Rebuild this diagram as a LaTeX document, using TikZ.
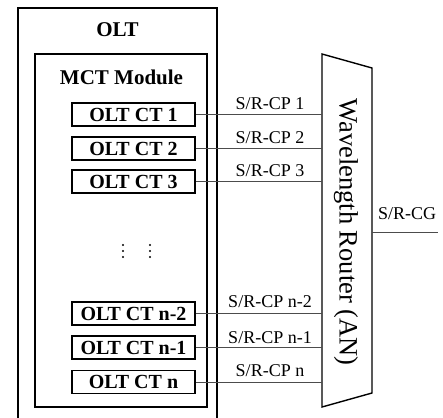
\documentclass[tikz,border=0pt]{standalone}
\usepackage{fontspec}
\setmainfont{Liberation Serif}
\usepackage{tikz}
\usetikzlibrary{calc}

\begin{document}
\begin{tikzpicture}[x=1pt,y=-1pt,
ctbox/.style={draw,line width=1.4pt,minimum width=123pt,minimum height=23pt,inner sep=0pt,font=\fontsize{20}{22}\selectfont\bfseries},
cplabel/.style={anchor=base,inner sep=0pt,font=\fontsize{18}{20}\selectfont},
link/.style={line width=1pt,black!70}]
\useasboundingbox (0,0) rectangle (443,417);
%\draw[red] (0,0) rectangle (443,417);

% OLT and MCT frames
\draw[line width=1.4pt] (18,430) -- (18,8) -- (217,8) -- (217,430);
\draw[line width=1.4pt] (35,54) rectangle (207,407);
\node (olt) [font=\fontsize{21}{23}\selectfont\bfseries] at (117.5,30) {OLT};
\node (mct) [font=\fontsize{21}{23}\selectfont\bfseries] at (121.5,77) {MCT Module};

% channel terminations
\node (ct1) [ctbox] at (133.5,114.5) {OLT CT 1};
\node (ct2) [ctbox] at (133.5,148.5) {OLT CT 2};
\node (ct3) [ctbox] at (133.5,181.5) {OLT CT 3};
\node (ctn2) [ctbox] at (133.5,313.5) {OLT CT n-2};
\node (ctn1) [ctbox] at (133.5,347.5) {OLT CT n-1};
\node (ctn) [ctbox] at (133.5,382) {OLT CT n};

\fill (123,245) circle (1.1) (123,251) circle (1.1) (123,257) circle (1.1);
\fill (150,245) circle (1.1) (150,251) circle (1.1) (150,257) circle (1.1);

% wavelength router
\coordinate (rtl) at (322,54);
\coordinate (rtr) at (372,68);
\coordinate (rbr) at (372,393);
\coordinate (rbl) at (322,407);
\draw[line width=1.4pt] (rtl) -- (rtr) -- (rbr) -- (rbl) -- cycle;
\node (router) [rotate=-90,font=\fontsize{26.5}{28}\selectfont] at (346,232) {Wavelength Router (AN)};

% links
\draw[link] (ct1.east) -- (ct1.east -| rtl);
\draw[link] (ct2.east) -- (ct2.east -| rtl);
\draw[link] (ct3.east) -- (ct3.east -| rtl);
\draw[link] (ctn2.east) -- (ctn2.east -| rtl);
\draw[link] (ctn1.east) -- (ctn1.east -| rtl);
\draw[link] (ctn.east) -- (ctn.east -| rtl);
\node (cp1) [cplabel] at (270,109) {S/R-CP 1};
\node (cp2) [cplabel] at (270,143) {S/R-CP 2};
\node (cp3) [cplabel] at (270,176) {S/R-CP 3};
\node (cpn2) [cplabel] at (270,307) {S/R-CP n-2};
\node (cpn1) [cplabel] at (270,343) {S/R-CP n-1};
\node (cpn) [cplabel] at (270,376) {S/R-CP n};

\coordinate (cgend) at (438,232);
\draw[link] (cgend -| rtr) -- (cgend);
\node (cg) [cplabel] at (407,219) {S/R-CG};
\end{tikzpicture}
\end{document}
